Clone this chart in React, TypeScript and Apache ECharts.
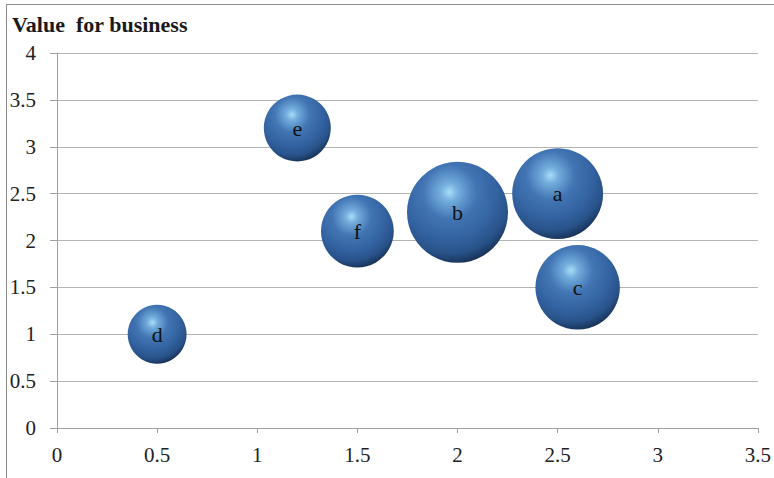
import React, { useEffect, useRef } from "react";
import * as echarts from "echarts";

const names = ["a", "b", "c", "d", "e", "f"];
const xValues = [2.5, 2.0, 2.6, 0.5, 1.2, 1.5];
const yValues = [2.5, 2.3, 1.5, 1.0, 3.2, 2.1];
const sizes = [8.1, 10, 7.0, 3.4, 4.4, 5.2];
const xTicks = [0, 0.5, 1, 1.5, 2, 2.5, 3, 3.5];
const yTicks = [0, 0.5, 1, 1.5, 2, 2.5, 3, 3.5, 4];
const titleText = "Value  for business";

const serif = "Times New Roman, Liberation Serif, DejaVu Serif, serif";

export default function App() {
  const ref = useRef<HTMLDivElement>(null);
  useEffect(() => {
    document.body.style.margin = "0";
    const chart = echarts.init(ref.current!, null, { renderer: "svg" });
    const maxSize = Math.max(...sizes);
    const bubbleColor = new echarts.graphic.RadialGradient(0.42, 0.3, 0.76, [
      { offset: 0, color: "#a8dcf6" },
      { offset: 0.12, color: "#72acdc" },
      { offset: 0.35, color: "#4275b4" },
      { offset: 0.62, color: "#3362a0" },
      { offset: 0.8, color: "#285289" },
      { offset: 0.92, color: "#1a375e" },
      { offset: 1, color: "#0a1628" },
    ]);
    chart.setOption({
      animation: false,
      textStyle: { fontFamily: serif },
      grid: { left: 57, right: 15, top: 53, bottom: 50, containLabel: false },
      title: {
        text: titleText,
        left: 7,
        top: 8,
        textStyle: { fontFamily: serif, fontWeight: "bold", fontSize: 22, color: "#1a1a1a" },
      },
      graphic: [
        { type: "line", shape: { x1: 6, y1: 4.5, x2: 774, y2: 4.5 }, style: { stroke: "#8c8c8c", lineWidth: 1 } },
        { type: "line", shape: { x1: 6.5, y1: 4, x2: 6.5, y2: 478 }, style: { stroke: "#8c8c8c", lineWidth: 1 } },
      ],
      xAxis: {
        type: "value",
        min: 0,
        max: 3.5,
        interval: 0.5,
        axisLine: { show: true, lineStyle: { color: "#a0a0a0" } },
        axisTick: { show: true, length: 5, lineStyle: { color: "#a0a0a0" } },
        splitLine: { show: false },
        axisLabel: {
          margin: 16,
          fontFamily: serif,
          fontSize: 21,
          color: "#222",
          formatter: (v: number) => (xTicks.includes(v) ? String(v) : ""),
        },
      },
      yAxis: {
        type: "value",
        min: 0,
        max: 4,
        interval: 0.5,
        axisLine: { show: true, lineStyle: { color: "#a0a0a0" } },
        axisTick: { show: true, length: 7, lineStyle: { color: "#a0a0a0" } },
        splitLine: { show: true, lineStyle: { color: "#b4b4b4" } },
        axisLabel: {
          margin: 21,
          fontFamily: serif,
          fontSize: 21,
          color: "#222",
          formatter: (v: number) => (yTicks.includes(v) ? String(v) : ""),
        },
      },
      series: [
        {
          type: "scatter",
          data: names.map((n, i) => ({ name: n, value: [xValues[i], yValues[i], sizes[i]] })),
          symbolSize: (val: number[]) => 101 * Math.sqrt(val[2] / maxSize),
          itemStyle: { color: bubbleColor, opacity: 1 },
          label: {
            show: true,
            position: "inside",
            formatter: (p: any) => p.name,
            fontFamily: serif,
            fontSize: 22,
            color: "#111",
          },
        },
      ],
    });
    return () => chart.dispose();
  }, []);
  return <div ref={ref} style={{ width: 774, height: 478 }} />;
}
